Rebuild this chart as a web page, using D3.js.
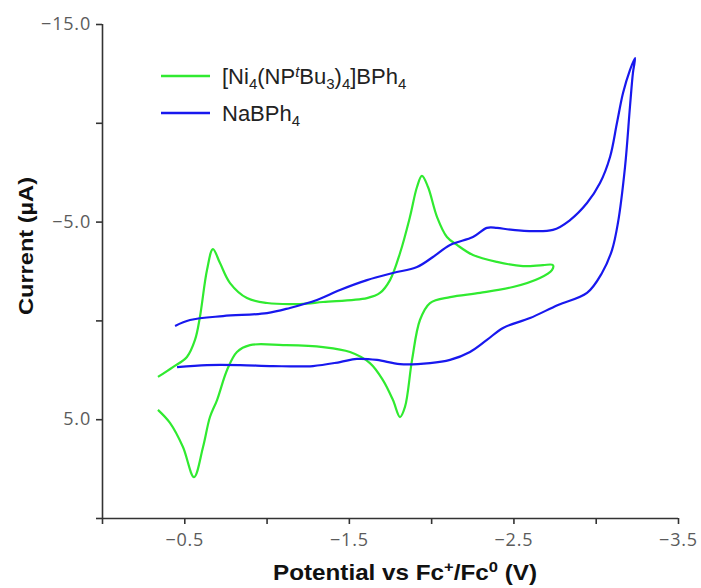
<!DOCTYPE html>
<html><head><meta charset="utf-8">
<script src="https://cdn.jsdelivr.net/npm/d3@7"></script>
<style>
html,body{margin:0;padding:0;background:#fff;}
svg{display:block;}
</style></head>
<body>
<script>
// Potential (V vs Fc+/Fc0) and current (µA) for [Ni4(NPtBu3)4]BPh4
const niPotential = [-0.340,-0.413,-0.492,-0.559,-0.614,-0.656,-0.699,-0.760,-0.820,-0.899,-1.100,-1.343,-1.507,-1.628,-1.707,-1.768,-1.811,-1.841,-1.884,-1.932,-1.993,-2.115,-2.297,-2.497,-2.661,-2.734,-2.740,-2.680,-2.558,-2.400,-2.254,-2.157,-2.096,-2.036,-1.981,-1.944,-1.914,-1.871,-1.811,-1.750,-1.689,-1.610,-1.343,-1.203,-1.003,-0.881,-0.778,-0.717,-0.674,-0.638,-0.595,-0.565,-0.516,-0.431,-0.340];
const niCurrent   = [4.53,5.19,6.41,7.93,6.41,4.89,4.03,2.51,1.60,1.25,1.25,1.35,1.60,2.16,3.02,4.03,4.89,4.38,2.00,-0.02,-0.88,-1.18,-1.39,-1.69,-2.15,-2.55,-2.80,-2.80,-2.75,-2.96,-3.31,-3.82,-4.22,-5.23,-6.75,-7.31,-6.75,-5.23,-3.41,-2.04,-1.39,-1.13,-0.93,-0.83,-0.88,-1.13,-1.89,-2.90,-3.61,-2.55,-0.17,0.99,1.85,2.36,2.86];
// NaBPh4
const naPotential = [-0.444,-0.535,-0.735,-1.003,-1.142,-1.306,-1.446,-1.610,-1.768,-1.914,-2.011,-2.115,-2.254,-2.339,-2.400,-2.497,-2.740,-2.844,-2.947,-3.026,-3.087,-3.129,-3.166,-3.208,-3.239,-3.226,-3.208,-3.178,-3.135,-3.099,-3.038,-2.947,-2.771,-2.601,-2.437,-2.339,-2.236,-2.115,-1.993,-1.811,-1.671,-1.549,-1.446,-1.282,-1.039,-0.839,-0.638,-0.456];
const naCurrent   = [0.28,-0.02,-0.22,-0.37,-0.63,-1.03,-1.54,-2.04,-2.40,-2.70,-3.21,-3.82,-4.22,-4.68,-4.68,-4.58,-4.58,-5.08,-5.94,-6.95,-8.27,-9.99,-11.51,-12.67,-13.28,-12.52,-10.80,-7.76,-4.93,-3.56,-2.40,-1.39,-0.78,-0.12,0.38,0.99,1.60,2.00,2.16,2.21,2.00,1.95,2.11,2.31,2.31,2.26,2.26,2.36];

const xTicks = [0,-0.5,-1.0,-1.5,-2.0,-2.5,-3.0,-3.5];
const xTickLabels = ["", "-0.5", "", "-1.5", "", "-2.5", "", "-3.5"];
const yTicks = [-15,-10,-5,0,5,10];
const yTickLabels = ["-15.0", "", "-5.0", "", "5.0", ""];

const W = 701, H = 588;
const svg = d3.select("body").append("svg").attr("width", W).attr("height", H);

const x = d3.scaleLinear().domain([0, -3.5]).range([102, 678]);
const y = d3.scaleLinear().domain([-15, 10]).range([24, 518]);

const tickFont = "'Open Sans', 'Lato', sans-serif";
const tickColor = "#5b5b5b";

// X axis
const xAxis = d3.axisBottom(x).tickValues(xTicks).tickSize(6).tickPadding(9)
  .tickFormat((d, i) => xTickLabels[i].replace("-", "\u2212"));
const gx = svg.append("g").attr("transform", `translate(0,${y(10)})`).call(xAxis);
// Y axis
const yAxis = d3.axisLeft(y).tickValues(yTicks).tickSize(6).tickPadding(5)
  .tickFormat((d, i) => yTickLabels[i].replace("-", "\u2212"));
const gy = svg.append("g").attr("transform", `translate(${x(0)},0)`).call(yAxis);

[gx, gy].forEach(g => {
  g.select(".domain").attr("stroke", "#333").attr("stroke-width", 1.6);
  g.selectAll(".tick line").attr("stroke", "#333").attr("stroke-width", 1.6);
  g.selectAll(".tick text").attr("fill", tickColor).attr("font-family", tickFont)
    .attr("font-size", 18).attr("letter-spacing", "0.8px");
});
gy.select(".domain").attr("d", `M0.5,${y(-15)}V${y(10)}`);
gx.select(".domain").attr("d", `M${x(0)},0.5H${x(-3.5)}`);

// curves
const line = d3.line().x(d => x(d[0])).y(d => y(d[1])).curve(d3.curveCatmullRom.alpha(0.5));
const niData = niPotential.map((v, i) => [v, niCurrent[i]]);
const naData = naPotential.map((v, i) => [v, naCurrent[i]]);
const green = "#30ea30", blue = "#1818ee";
svg.append("path").datum(niData).attr("d", line).attr("fill", "none").attr("stroke", green).attr("stroke-width", 2.2).attr("stroke-linejoin", "round");
svg.append("path").datum(naData).attr("d", line).attr("fill", "none").attr("stroke", blue).attr("stroke-width", 2.2).attr("stroke-linejoin", "round");

// axis titles
const titleFont = "'Liberation Sans Narrow', 'Liberation Sans', Arial, sans-serif";
const xt = svg.append("text").attr("x", 405).attr("y", 580).attr("text-anchor", "middle")
  .attr("font-family", titleFont).attr("font-weight", "bold").attr("font-size", 22).attr("fill", "#111")
  .attr("textLength", 264).attr("lengthAdjust", "spacingAndGlyphs");
xt.append("tspan").text("Potential vs Fc");
xt.append("tspan").attr("font-size", 15).attr("dy", -8).text("+");
xt.append("tspan").attr("dy", 8).text("/Fc");
xt.append("tspan").attr("font-size", 15).attr("dy", -8).text("0");
xt.append("tspan").attr("dy", 8).text(" (V)");

svg.append("text").attr("transform", "translate(33,246) rotate(-90)").attr("text-anchor", "middle")
  .attr("font-family", "'Liberation Sans', Arial, sans-serif").attr("font-weight", "bold").attr("font-size", 21)
  .attr("fill", "#111").attr("textLength", 138).attr("lengthAdjust", "spacingAndGlyphs").text("Current (\u00b5A)");

// legend
const legFont = "'Liberation Sans', Arial, sans-serif";
const legend = svg.append("g");
const items = [{color: green, y: 76}, {color: blue, y: 113}];
items.forEach(it => legend.append("line").attr("x1", 161).attr("x2", 210).attr("y1", it.y).attr("y2", it.y)
  .attr("stroke", it.color).attr("stroke-width", 2.6));
const t1 = legend.append("text").attr("x", 222).attr("y", 84).attr("font-family", legFont).attr("font-size", 22).attr("fill", "#222");
const sub = (t, s) => { t.append("tspan").attr("font-size", 15).attr("dy", 5).text(s); };
const norm = (t, s, dy) => { t.append("tspan").attr("dy", dy).text(s); };
norm(t1, "[Ni", 0); sub(t1, "4"); norm(t1, "(NP", -5);
t1.append("tspan").attr("font-size", 15).attr("font-style", "italic").attr("dy", -7).text("t");
norm(t1, "Bu", 7); sub(t1, "3"); norm(t1, ")", -5); sub(t1, "4"); norm(t1, "]BPh", -5); sub(t1, "4");
const t2 = legend.append("text").attr("x", 222).attr("y", 121).attr("font-family", legFont).attr("font-size", 22).attr("fill", "#222");
norm(t2, "NaBPh", 0); sub(t2, "4");
</script>
</body></html>
